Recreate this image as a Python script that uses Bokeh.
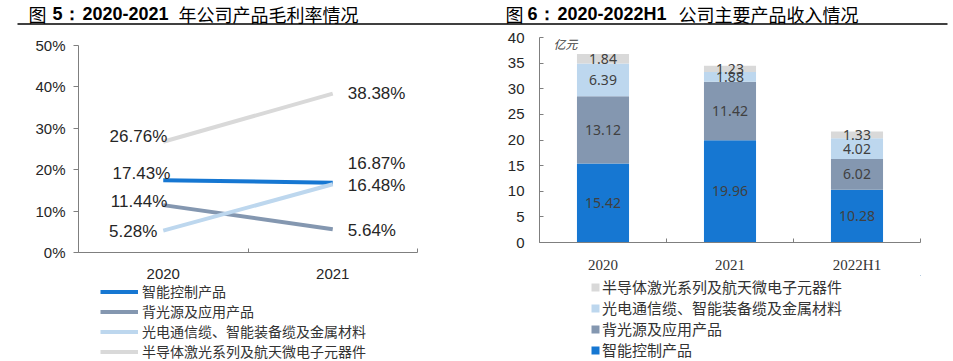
from bokeh.plotting import figure
from bokeh.models import (Range1d, FixedTicker, PrintfTickFormatter, CustomJSTickFormatter,
                          Legend, LegendItem, ColumnDataSource, Label)
from bokeh.layouts import column, row
from bokeh.embed import file_html
from bokeh.resources import INLINE
from bokeh.core.properties import value

# ---------------- data ----------------
margin_years = ["2020", "2021"]
series_names = ["智能控制产品", "背光源及应用产品",
                "光电通信缆、智能装备缆及金属材料", "半导体激光系列及航天微电子元器件"]
margin_ctrl = [17.43, 16.87]
margin_backlight = [11.44, 5.64]
margin_optical = [5.28, 16.48]
margin_semi = [26.76, 38.38]
margin_ticks = [0, 10, 20, 30, 40, 50]

rev_years = ["2020", "2021", "2022H1"]
rev_ctrl = [15.42, 19.96, 10.28]
rev_backlight = [13.12, 11.42, 6.02]
rev_optical = [6.39, 1.88, 4.02]
rev_semi = [1.84, 1.23, 1.33]
rev_ticks = [0, 5, 10, 15, 20, 25, 30, 35, 40]
rev_unit = "亿元"

title_left = ["图", "5：", "2020-2021", "年公司产品毛利率情况"]
title_right = ["图", "6：", "2020-2022H1", "公司主要产品收入情况"]

# ---------------- styles ----------------
C_CTRL = "#1677D2"
C_BACK = "#8497B0"
C_OPT = "#BDD7EE"
C_SEMI = "#D9D9D9"
AXIS = "#7F7F7F"
TXT = "#262626"
CJK = "Noto Sans CJK SC"
colors = [C_CTRL, C_BACK, C_OPT, C_SEMI]

# label offsets (pixels) for the margin chart, order: ctrl, back, opt, semi
off_2020_dx = [7, 4, -6, 4]
off_2020_dy = [-7, -4, 1, -5]
off_2021_dx = [15, 15, 15, 15]
off_2021_dy = [-19, 1, 1, 0]


def bare(width, height):
    # legend strip: its ranges keep the helper renderers out of sight
    f = figure(width=width, height=height, x_range=Range1d(-2, -1), y_range=Range1d(-2, -1),
               output_backend="svg", toolbar_location=None, min_border=0,
               x_axis_location=None, y_axis_location=None, outline_line_color=None)
    f.grid.visible = False
    return f


# ---------------- title strip ----------------
tf = figure(width=953, height=26, x_range=Range1d(0, 953), y_range=Range1d(26, 0),
            output_backend="svg", toolbar_location=None, min_border=0,
            x_axis_location=None, y_axis_location=None, outline_line_color=None)
tf.grid.visible = False
tf.segment(x0=[17], y0=[23.5], x1=[947], y1=[23.5], line_color="black", line_width=1.5)


def title_parts(parts, xs):
    for i, (t, x) in enumerate(zip(parts, xs)):
        bold = i in (1, 2)
        tf.add_layout(Label(x=x, y=13, text=t, text_align="left", text_baseline="middle",
                            text_font="Liberation Sans" if bold else CJK,
                            text_font_style="bold" if bold else "normal",
                            text_font_size="18px", text_color="black"))


title_parts(title_left, [28, 52, 82, 178])
title_parts(title_right, [505, 527, 557, 678])

# ---------------- left: margin line chart ----------------
p1 = figure(width=480, height=255, x_range=Range1d(0, 2), y_range=Range1d(0, 50),
            output_backend="svg", toolbar_location=None,
            min_border_left=78, min_border_right=63, min_border_top=19, min_border_bottom=29,
            outline_line_color=None)
p1.grid.visible = False

xs1 = [i + 0.5 for i in range(len(margin_years))]
series = [margin_ctrl, margin_backlight, margin_optical, margin_semi]
for vals, c in zip(series, colors):
    p1.line(x=xs1, y=vals, line_color=c, line_width=4)

for idx, (dxs, dys, align) in enumerate([(off_2020_dx, off_2020_dy, "right"),
                                         (off_2021_dx, off_2021_dy, "left")]):
    src = ColumnDataSource(dict(
        x=[xs1[idx]] * len(series),
        y=[s[idx] for s in series],
        t=["%.2f%%" % s[idx] for s in series],
        dx=dxs, dy=dys))
    p1.text(x="x", y="y", text="t", x_offset="dx", y_offset="dy", source=src,
            text_align=align, text_baseline="middle", text_font=value("Liberation Sans"),
            text_font_size="17px", text_color=TXT)

xa = p1.xaxis[0]
xa.ticker = FixedTicker(ticks=xs1, minor_ticks=[0, 1, 2])
xa.formatter = CustomJSTickFormatter(args=dict(labels=margin_years),
                                     code="return labels[Math.floor(tick)]")
xa.major_tick_line_color = None
xa.minor_tick_in = 4
xa.minor_tick_out = 0
xa.minor_tick_line_color = AXIS
xa.axis_line_color = AXIS
xa.major_label_standoff = 10
xa.major_label_text_font = "Liberation Sans"
xa.major_label_text_font_size = "15px"
xa.major_label_text_color = TXT

ya = p1.yaxis[0]
ya.ticker = FixedTicker(ticks=margin_ticks)
ya.formatter = PrintfTickFormatter(format="%d%%")
ya.major_tick_out = 5
ya.major_tick_in = 0
ya.minor_tick_line_color = None
ya.major_tick_line_color = AXIS
ya.axis_line_color = AXIS
ya.major_label_standoff = 8
ya.major_label_text_font = "Liberation Sans"
ya.major_label_text_font_size = "15px"
ya.major_label_text_color = TXT

# legend strip under the line chart (frame is aligned with the chart's frame)
lf1 = bare(480, 80)
leg1_r = [lf1.line(x=xs1, y=vals, line_color=c, line_width=4) for vals, c in zip(series, colors)]
leg1 = Legend(items=[LegendItem(label=n, renderers=[r]) for n, r in zip(series_names, leg1_r)],
              location=(22, 0), orientation="vertical", border_line_color=None,
              background_fill_alpha=0, padding=0, margin=0, spacing=0,
              glyph_width=38, glyph_height=19, label_height=19, label_standoff=4,
              label_text_font=CJK, label_text_font_size="14px", label_text_color="#333333")
lf1.add_layout(leg1, "center")

# ---------------- right: revenue stacked bars ----------------
p2 = figure(width=473, height=249, x_range=Range1d(0, 3), y_range=Range1d(0, 40),
            output_backend="svg", toolbar_location=None,
            min_border_left=59, min_border_right=33, min_border_top=11, min_border_bottom=30,
            outline_line_color=None)
p2.grid.visible = False

xs2 = [i + 0.5 for i in range(len(rev_years))]
stack_keys = ["ctrl", "backlight", "optical", "semi"]
stack_vals = [rev_ctrl, rev_backlight, rev_optical, rev_semi]
bsrc = ColumnDataSource(dict(x=xs2, ctrl=rev_ctrl, backlight=rev_backlight,
                             optical=rev_optical, semi=rev_semi))
p2.vbar_stack(stack_keys, x="x", width=0.41, color=colors, line_color=None, source=bsrc)

lx, ly, lt = [], [], []
for j in range(len(rev_years)):
    base = 0.0
    for vals in stack_vals:
        lx.append(xs2[j])
        ly.append(base + vals[j] / 2.0)
        lt.append("%.2f" % vals[j])
        base += vals[j]
p2.text(x=lx, y=ly, text=lt, text_align="center", text_baseline="middle",
        text_font=value("Noto Sans"), text_font_size="14px", text_color="#404040")

p2.add_layout(Label(x=0.11, y=38.85, text=rev_unit, text_font=CJK, text_font_size="12px",
                    text_font_style="italic", text_color="#404040",
                    text_align="left", text_baseline="middle"))

xb = p2.xaxis[0]
xb.ticker = FixedTicker(ticks=xs2, minor_ticks=[0, 1, 2, 3])
xb.formatter = CustomJSTickFormatter(args=dict(labels=rev_years),
                                     code="return labels[Math.floor(tick)]")
xb.major_tick_line_color = None
xb.minor_tick_in = 4
xb.minor_tick_out = 0
xb.minor_tick_line_color = AXIS
xb.axis_line_color = AXIS
xb.major_label_standoff = 8
xb.major_label_text_font = "Liberation Serif"
xb.major_label_text_font_size = "15px"
xb.major_label_text_color = "#333333"

yb = p2.yaxis[0]
yb.ticker = FixedTicker(ticks=rev_ticks)
yb.major_tick_out = 0
yb.major_tick_in = 4
yb.minor_tick_line_color = None
yb.major_tick_line_color = AXIS
yb.axis_line_color = AXIS
yb.major_label_standoff = 15
yb.major_label_text_font = "Liberation Sans"
yb.major_label_text_font_size = "15px"
yb.major_label_text_color = TXT

# legend strip under the bar chart (frame is aligned with the chart's frame)
lf2 = bare(473, 86)
leg_order = [3, 2, 1, 0]
leg2_r = [lf2.vbar(x=xs2, top=stack_vals[k], width=0.41, color=colors[k], line_color=None)
          for k in leg_order]
leg2 = Legend(items=[LegendItem(label=series_names[k], renderers=[r]) for k, r in zip(leg_order, leg2_r)],
              location=(51, 1), orientation="vertical", border_line_color=None,
              background_fill_alpha=0, padding=0, margin=0, spacing=0,
              glyph_width=10, glyph_height=10, label_height=20, label_standoff=2,
              label_text_font=CJK, label_text_font_size="15px", label_text_color="#333333")
lf2.add_layout(leg2, "center")

layout = column(tf, row(column(p1, lf1), column(p2, lf2)))
open("out.html", "w").write(file_html(layout, INLINE))
